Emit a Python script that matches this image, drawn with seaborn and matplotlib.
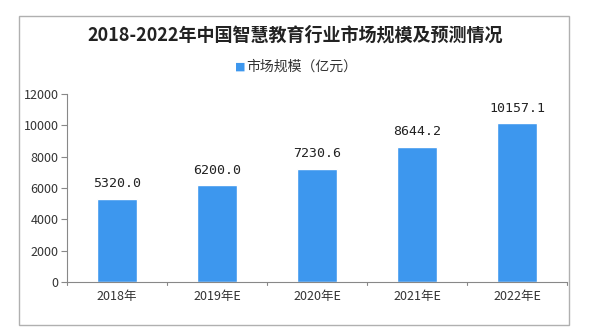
import matplotlib
matplotlib.use("Agg")
import matplotlib.pyplot as plt
import seaborn as sns
import pandas as pd
from matplotlib.patches import Rectangle

categories = ["2018年", "2019年E", "2020年E", "2021年E", "2022年E"]
values = [5320.0, 6200.0, 7230.6, 8644.2, 10157.1]
yticks = [0, 2000, 4000, 6000, 8000, 10000, 12000]
title = "2018-2022年中国智慧教育行业市场规模及预测情况"
legend_label = "市场规模（亿元）"

sns.set_theme(style="white")
plt.rcParams['font.family'] = ['Noto Sans CJK SC', 'DejaVu Sans']

W, H = 600, 333
fig = plt.figure(figsize=(W / 100, H / 100), dpi=100)
fig.patch.set_facecolor("white")

# outer frame
fig.add_artist(Rectangle((19 / W, 1 - 325 / H), (569 - 19) / W, (325 - 16) / H,
                         transform=fig.transFigure, fill=False,
                         edgecolor="#b0b0b0", linewidth=1.0))

ax = fig.add_axes([67 / W, 1 - 282 / H, (567 - 67) / W, (282 - 94) / H])
df = pd.DataFrame({"cat": categories, "val": values})
blue = "#3d97ee"
sns.barplot(data=df, x="cat", y="val", color=blue, saturation=1, width=0.4, ax=ax)

ax.set_ylim(0, 12000)
ax.set_xlim(-0.5, len(categories) - 0.5)
ax.set_yticks(yticks)
ax.set_yticklabels([str(v) for v in yticks], fontsize=9, color="#333333")
ax.set_xlabel("")
ax.set_ylabel("")
ax.tick_params(axis="x", length=0, labelsize=9, labelcolor="#333333", pad=6)
ax.tick_params(axis="y", left=True, length=4, width=0.8, color="#888888", pad=2)
for i in range(len(categories) + 1):
    ax.plot([i - 0.5, i - 0.5], [0, -180], color="#888888", lw=0.8, clip_on=False)
for s in ["top", "right"]:
    ax.spines[s].set_visible(False)
for s in ["left", "bottom"]:
    ax.spines[s].set_color("#888888")
    ax.spines[s].set_linewidth(0.8)
ax.set_facecolor("none")

for c in ax.containers:
    ax.bar_label(c, labels=[f"{v:.1f}" for v in values], padding=6,
                 fontsize=9.5, color="#222222", family=["DejaVu Sans Mono"])

fig.text(295 / W, 1 - 35 / H, title, ha="center", va="center", fontsize=13,
         fontweight="bold", color="#222222")
fig.text(240 / W, 1 - 67 / H, "■", ha="center", va="center", fontsize=8, color=blue,
         family=["DejaVu Sans"])
fig.text(246 / W, 1 - 67 / H, legend_label, ha="left", va="center", fontsize=10,
         color="#333333")

fig.savefig("out.png", dpi=100)
